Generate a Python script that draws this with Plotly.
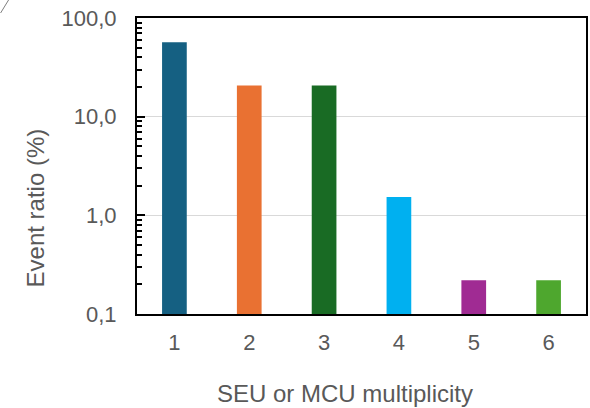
import plotly.graph_objects as go

# Event ratio per SEU/MCU multiplicity
multiplicity = [1, 2, 3, 4, 5, 6]
event_ratio = [56.7, 20.7, 20.7, 1.53, 0.22, 0.22]
bar_colors = ["#156082", "#E97132", "#196B24", "#00B0F0", "#A02B93", "#4EA72E"]

y_tickvals = [0.1, 1, 10, 100]
y_ticktext = ["0,1", "1,0", "10,0", "100,0"]

FONT = "Liberation Sans, Arial, sans-serif"
GREY = "#595959"

# plot-area geometry in pixels, used to place the axis titles
W, H = 590, 408
L, R, T, B = 137, 2, 18, 94
PW, PH = W - L - R, H - T - B


def px_to_paper(px, py):
    return (px - L) / PW, (H - B - py) / PH


fig = go.Figure(
    go.Bar(
        x=multiplicity,
        y=event_ratio,
        marker=dict(color=bar_colors, line=dict(width=0)),
        width=0.33,
    )
)

fig.update_layout(
    width=W,
    height=H,
    margin=dict(l=L, r=R, t=T, b=B),
    paper_bgcolor="white",
    plot_bgcolor="white",
    showlegend=False,
    font=dict(family=FONT, color=GREY, size=22),
)

fig.update_xaxes(
    range=[0.5, 6.5],
    tickvals=multiplicity,
    ticktext=[str(m) for m in multiplicity],
    ticks="",
    showgrid=False,
    showline=True,
    linecolor="black",
    linewidth=2,
    mirror=True,
    tickfont=dict(size=22, color=GREY),
    ticklabelstandoff=8,
)

fig.update_yaxes(
    type="log",
    range=[-1, 2],
    tickvals=y_tickvals,
    ticktext=y_ticktext,
    ticks="inside",
    ticklen=8,
    tickwidth=2,
    tickcolor="black",
    minor=dict(ticks="inside", ticklen=5, tickwidth=1.5, tickcolor="black", dtick="D1", showgrid=False),
    showgrid=True,
    gridcolor="#d9d9d9",
    gridwidth=1,
    showline=True,
    linecolor="black",
    linewidth=2,
    mirror=True,
    zeroline=False,
    tickfont=dict(size=22, color=GREY),
    ticklabelstandoff=14,
)

# axis titles
xt_x, xt_y = px_to_paper(346, 393)
yt_x, yt_y = px_to_paper(35, 208)
fig.add_annotation(
    text="SEU or MCU multiplicity", xref="paper", yref="paper",
    x=xt_x, y=xt_y, xanchor="center", yanchor="middle", showarrow=False,
    font=dict(size=24, color=GREY, family=FONT),
)
fig.add_annotation(
    text="Event ratio (%)", xref="paper", yref="paper",
    x=yt_x, y=yt_y, xanchor="center", yanchor="middle", showarrow=False,
    textangle=-90, font=dict(size=24, color=GREY, family=FONT),
)

# thin stroke in the upper-left corner of the frame
x0, y0 = px_to_paper(0, 13)
x1, y1 = px_to_paper(8, 0)
fig.add_shape(
    type="line", xref="paper", yref="paper",
    x0=x0, y0=y0, x1=x1, y1=y1,
    line=dict(color="#7f7f7f", width=1),
)

fig.write_html("out.html")
